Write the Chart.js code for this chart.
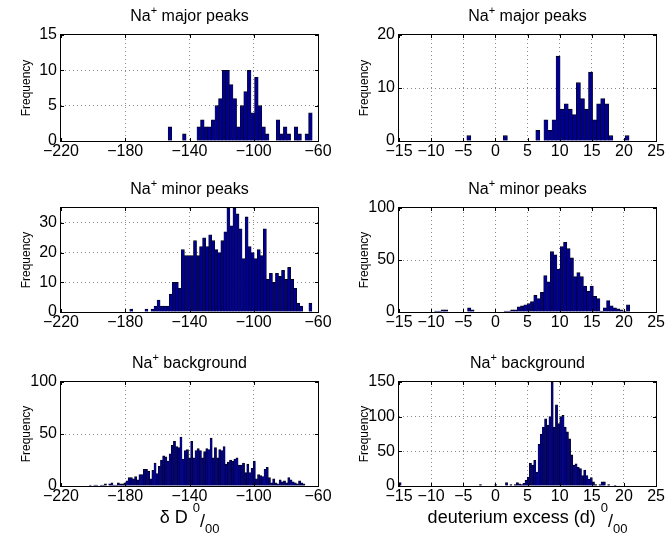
<!DOCTYPE html>
<html><head><meta charset="utf-8">
<script src="https://cdn.jsdelivr.net/npm/chart.js@4"></script>
<style>
html,body{margin:0;padding:0;background:#fff;}
body{width:666px;height:539px;position:relative;overflow:hidden;}
canvas{position:absolute;}
</style></head><body>
<script>
// ---------- DATA (histogram counts) ----------
// Na+ major peaks, dD (40 bins)
const majorDDRange = [-153.3, -63.6];
const majorDD = [2,0,0,0,1,0,0,0,2,3,2,2,3,5,6,10,10,8,6,2,5,7,10,4,9,5,2,1,0,0,3,1,2,1,0,2,1,0,1,4];
// Na+ major peaks, d-excess (40 bins)
const majorDexRange = [-4.45, 20.8];
const majorDex = [1,0,0,0,0,0,0,0,0,1,0,0,0,0,0,0,0,2,0,4,2,4,16,6,7,6,5,11,8,6,13,4,7,8,7,1,0,0,0,1];
// Na+ minor peaks, dD (60 bins)
const minorDDRange = [-177.2, -63.8];
const minorDD = [1,0,0,0,0,1,0,1,2,4,2,2,2,6,10,10,8,21,19,19,19,24,19,22,25,22,26,24,21,20,24,27,35,29,35,33,28,18,32,22,20,18,21,19,28,11,13,10,13,12,14,11,15,11,8,3,2,0,0,3];
// Na+ minor peaks, d-excess (60 bins)
const minorDexRange = [-10.0, 20.9];
const minorDex = [0,1,1,2,2,0,0,0,0,0,0,4,2,0,0,0,0,0,0,0,0,0,1,1,2,2,5,6,7,8,10,16,13,19,35,29,58,55,41,63,67,61,52,34,38,34,25,20,25,15,13,1,4,11,6,4,3,2,1,7];
// Na+ background, dD (100 bins)
const bgDDRange = [-202.4, -68.1];
const bgDD = [1,0,1,1,0,1,1,2,0,2,3,1,1,3,2,2,3,5,8,8,7,9,6,11,11,16,16,14,7,15,22,12,19,25,29,28,24,31,39,43,38,37,47,26,34,35,27,43,27,34,36,34,27,33,36,35,46,27,37,27,35,34,38,21,23,25,24,26,27,20,20,22,13,21,13,17,24,7,11,10,9,16,18,8,3,7,3,2,6,4,5,3,8,6,4,3,2,5,3,2];
// Na+ background, d-excess (100 bins)
const bgDexRange = [-15.0, 18.8];
const bgDex = [5,0,0,0,0,0,0,0,0,0,0,0,0,0,0,0,0,0,0,0,0,0,0,0,0,0,0,0,0,0,0,0,0,0,0,0,0,2,0,0,0,0,0,0,2,0,0,0,0,5,0,2,0,2,5,3,2,4,8,13,33,30,37,20,60,75,85,97,88,100,150,85,117,90,100,102,85,78,68,45,30,32,27,25,15,23,15,10,12,6,2,0,2,6,6,0,2,0,0,1];

const dDTicks = [-220,-180,-140,-100,-60];
const dexTicks = [-15,-10,-5,0,5,10,15,20,25];
const titles = ['major peaks','minor peaks','background'];

// ---------- helpers ----------
const FONT = "'Liberation Sans', Arial, Helvetica, sans-serif";
function binned(counts, range){
  const n = counts.length, w = (range[1]-range[0])/n;
  return counts.map((c,i)=>({x: range[0] + (i+0.5)*w, y: c}));
}
const fmt = v => (v<0 ? '\u2212' + Math.abs(v) : String(v));

function drawSegs(ctx, segs, cx, baseY){
  let total = 0;
  segs.forEach(s=>{ ctx.font = s.size+'px '+FONT; s.w = ctx.measureText(s.t).width; total += s.w + (s.gap||0); });
  let x = cx - total/2;
  ctx.textAlign='left'; ctx.textBaseline='alphabetic'; ctx.fillStyle='#000';
  segs.forEach(s=>{ ctx.font = s.size+'px '+FONT; ctx.fillText(s.t, x, baseY + (s.dy||0)); x += s.w + (s.gap||0); });
}

const decor = {
  id:'decor',
  afterDraw(chart, args, o){
    const ctx = chart.ctx, a = chart.chartArea;
    const L=Math.round(a.left), T=Math.round(a.top), R=Math.round(a.right), B=Math.round(a.bottom);
    ctx.save();
    ctx.strokeStyle='#000'; ctx.lineWidth=1;
    ctx.strokeRect(L-0.5, T-0.5, R-L+1, B-T+1);
    // inner ticks
    const tl=3;
    ctx.beginPath();
    chart.scales.x.ticks.forEach(t=>{
      const px = Math.round(chart.scales.x.getPixelForValue(t.value))+0.5;
      ctx.moveTo(px,B); ctx.lineTo(px,B-tl);
      ctx.moveTo(px,T); ctx.lineTo(px,T+tl);
    });
    chart.scales.y.ticks.forEach(t=>{
      const py = Math.round(chart.scales.y.getPixelForValue(t.value))+0.5;
      ctx.moveTo(L,py); ctx.lineTo(L+tl,py);
      ctx.moveTo(R,py); ctx.lineTo(R-tl,py);
    });
    ctx.stroke();
    // title
    drawSegs(ctx, [{t:'Na',size:16},{t:'+',size:11,dy:-7},{t:' '+o.title,size:16}], (L+R)/2, T-14);
    // y label
    ctx.save();
    ctx.translate(L-34, (T+B)/2);
    ctx.rotate(-Math.PI/2);
    ctx.font='12px '+FONT; ctx.textAlign='center'; ctx.textBaseline='middle'; ctx.fillStyle='#000';
    ctx.fillText('Frequency',0,0);
    ctx.restore();
    if(o.xlabel){
      drawSegs(ctx, [{t:o.xlabel,size:18},{t:'0',size:13,dy:-11},{t:'/',size:18,dy:4},{t:'00',size:13,dy:10}], (L+R)/2, B+37);
    }
    ctx.restore();
  }
};

const YW = 45, XH = 22;
function panel(cell, plot, counts, range, xr, xticks, ymax, yticks, title, xlabel){
  const cv = document.createElement('canvas');
  cv.width = cell.w; cv.height = cell.h;
  cv.style.left = cell.x+'px'; cv.style.top = cell.y+'px';
  cv.style.width = cell.w+'px'; cv.style.height = cell.h+'px';
  document.body.appendChild(cv);
  new Chart(cv, {
    type:'bar',
    data:{datasets:[{data: binned(counts, range), backgroundColor:'#00008c', borderColor:'#000',
      borderWidth:{left:0.5,right:0.5,top:0.8,bottom:0}, borderSkipped:false,
      barPercentage:1, categoryPercentage:1}]},
    plugins:[decor],
    options:{
      responsive:false, animation:false, devicePixelRatio:1,
      layout:{padding:{left: plot.l-cell.x-YW, top: plot.t-cell.y, right: cell.x+cell.w-plot.r, bottom: cell.y+cell.h-plot.b-XH}},
      plugins:{legend:{display:false}, tooltip:{enabled:false}, title:{display:false}, decor:{title, xlabel}},
      scales:{
        x:{type:'linear', min:xr[0], max:xr[1], offset:false,
           afterBuildTicks: s=>{ s.ticks = xticks.map(v=>({value:v})); },
           ticks:{callback:fmt, font:{size:16, family:FONT}, color:'#000', maxRotation:0, autoSkip:false, padding:1},
           grid:{offset:false, drawTicks:false, color: c => (c.tick && (c.tick.value===xr[0]||c.tick.value===xr[1])) ? 'rgba(0,0,0,0)' : '#8a8a8a', lineWidth:1},
           border:{display:false, dash:[1,3]},
           afterFit: s=>{ s.height = XH; }},
        y:{type:'linear', min:0, max:ymax,
           afterBuildTicks: s=>{ s.ticks = yticks.map(v=>({value:v})); },
           ticks:{callback:fmt, font:{size:16, family:FONT}, color:'#000', padding:4},
           grid:{drawTicks:false, color: c => (c.tick && (c.tick.value===0||c.tick.value===ymax)) ? 'rgba(0,0,0,0)' : '#8a8a8a', lineWidth:1},
           border:{display:false, dash:[1,3]},
           afterFit: s=>{ s.width = YW; }}
      }
    }
  });
}

const L = {x:0, w:333, l:61, r:318};
const Rr = {x:333, w:333, l:399, r:657};
const dd = [-220,-60], dx = [-15,25];

panel({x:L.x,y:0,w:L.w,h:173},{l:L.l,t:35,r:L.r,b:141}, majorDD, majorDDRange, dd, dDTicks, 15, [0,5,10,15], titles[0]);
panel({x:Rr.x,y:0,w:Rr.w,h:173},{l:Rr.l,t:35,r:Rr.r,b:141}, majorDex, majorDexRange, dx, dexTicks, 20, [0,10,20], titles[0]);
panel({x:L.x,y:173,w:L.w,h:174},{l:L.l,t:208,r:L.r,b:312}, minorDD, minorDDRange, dd, dDTicks, 35, [0,10,20,30], titles[1]);
panel({x:Rr.x,y:173,w:Rr.w,h:174},{l:Rr.l,t:208,r:Rr.r,b:312}, minorDex, minorDexRange, dx, dexTicks, 100, [0,50,100], titles[1]);
panel({x:L.x,y:347,w:L.w,h:192},{l:L.l,t:382,r:L.r,b:486}, bgDD, bgDDRange, dd, dDTicks, 100, [0,50,100], titles[2], '\u03B4 D ');
panel({x:Rr.x,y:347,w:Rr.w,h:192},{l:Rr.l,t:382,r:Rr.r,b:486}, bgDex, bgDexRange, dx, dexTicks, 150, [0,50,100,150], titles[2], 'deuterium excess (d) ');
</script>
</body></html>
